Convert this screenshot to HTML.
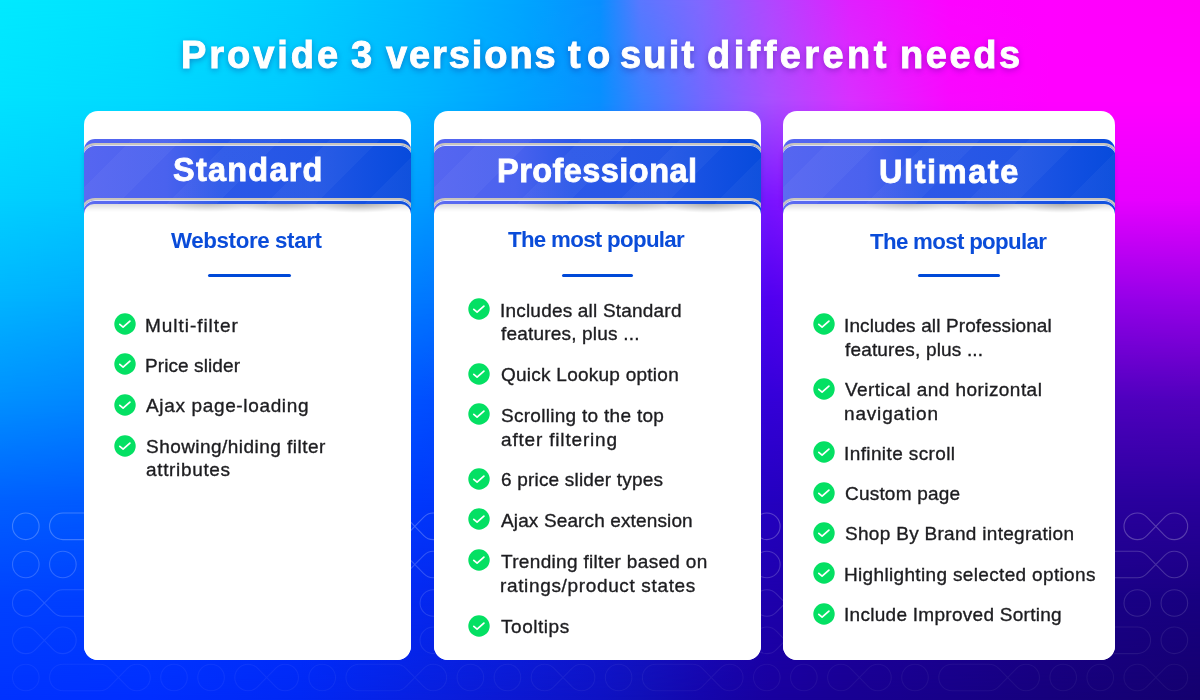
<!DOCTYPE html><html><head><meta charset="utf-8"><style>
html,body{margin:0;padding:0;}
body{width:1200px;height:700px;overflow:hidden;position:relative;font-family:"Liberation Sans",sans-serif;}
.bg{position:absolute;left:0;top:0;width:1200px;height:700px;overflow:hidden;}
.pat{position:absolute;left:0;top:0;}
.bgl{position:absolute;left:0;top:0;width:1200px;height:700px;}
.t{position:absolute;white-space:nowrap;will-change:transform;}
.card{position:absolute;top:111px;height:549px;background:#fff;border-radius:14px;overflow:hidden;}
.band{position:absolute;left:0;right:0;top:28px;height:76px;border-radius:11px 11px 0 0;
 background:linear-gradient(90deg,#5666f1 0%,#4a62ee 25%,#2c58e8 42%,#2356e5 70%,#0f4ee0 90%,#074bdc 100%);}
.stripes{position:absolute;left:0;right:0;top:0;bottom:0;
 background:repeating-linear-gradient(135deg,rgba(255,255,255,0) 0px,rgba(255,255,255,0) 34px,rgba(255,255,255,0.035) 34px,rgba(255,255,255,0.035) 70px);}
.ln{position:absolute;left:-3px;right:-3px;height:12px;border:2px solid #c9c5bd;border-bottom:none;border-radius:14px 14px 0 0;box-shadow:inset 0 1px 0 rgba(255,255,255,0.8);}
.body{position:absolute;left:0;right:0;top:93px;bottom:0;background:#fff;border-radius:10px 10px 0 0;}
.shadow{position:absolute;left:0;right:0;top:0;height:10px;border-radius:10px 10px 0 0;background:radial-gradient(14% 8px at 38% 0,rgba(0,0,0,0.14),rgba(0,0,0,0)),radial-gradient(14% 8px at 61% 0,rgba(0,0,0,0.17),rgba(0,0,0,0)),radial-gradient(14% 9px at 84% 0,rgba(0,0,0,0.22),rgba(0,0,0,0)),linear-gradient(180deg,rgba(0,0,0,0.14),rgba(0,0,0,0.04) 5px,rgba(0,0,0,0) 8px);}
.ul{position:absolute;height:3px;border-radius:2px;background:#0049d8;top:274.2px;}
.ic{position:absolute;width:22px;height:22px;}
</style></head><body>
<div class="bg" style="background:#0040ff">
<div class="bgl" style="background:linear-gradient(90deg,#00eaff 0.000%,#00e0ff 12.500%,#00cfff 25.000%,#00bbff 35.000%,#00a6ff 43.333%,#0890ff 50.000%,#5a78ff 53.333%,#8068ff 58.333%,#b048ff 64.167%,#e020ff 70.833%,#fc04ff 79.167%,#ff00ff 87.500%,#ff00f8 100.000%)"></div>
<div class="bgl" style="background:linear-gradient(90deg,#00e2ff 0.000%,#00d8ff 12.500%,#00c8ff 25.000%,#00b6ff 35.000%,#00a2ff 43.333%,#0890ff 50.000%,#3a80ff 53.333%,#7068ff 58.333%,#a850ff 64.167%,#d830ff 70.833%,#f808ff 79.167%,#ff00ff 87.500%,#ff00ff 100.000%);-webkit-mask-image:linear-gradient(180deg,transparent 0.000%,#000 14.286%);mask-image:linear-gradient(180deg,transparent 0.000%,#000 14.286%)"></div>
<div class="bgl" style="background:linear-gradient(90deg,#00d0ff 0.000%,#00c4ff 12.500%,#00b0ff 25.000%,#009cff 35.000%,#0088ff 43.333%,#1070ff 50.000%,#2060ff 53.333%,#5040ff 58.333%,#7a14ff 64.167%,#a010ff 70.833%,#d000ff 79.167%,#e800ff 87.500%,#e600ff 100.000%);-webkit-mask-image:linear-gradient(180deg,transparent 14.286%,#000 28.571%);mask-image:linear-gradient(180deg,transparent 14.286%,#000 28.571%)"></div>
<div class="bgl" style="background:linear-gradient(90deg,#00b4ff 0.000%,#00a4ff 12.500%,#0090ff 25.000%,#0078ff 35.000%,#0868ff 43.333%,#1450ff 50.000%,#2040f8 53.333%,#3828f4 58.333%,#5000f0 64.167%,#6800ea 70.833%,#8000e8 79.167%,#9000e8 87.500%,#9800e8 100.000%);-webkit-mask-image:linear-gradient(180deg,transparent 28.571%,#000 42.857%);mask-image:linear-gradient(180deg,transparent 28.571%,#000 42.857%)"></div>
<div class="bgl" style="background:linear-gradient(90deg,#0090ff 0.000%,#0080ff 12.500%,#0068ff 25.000%,#0050ff 35.000%,#0840f8 43.333%,#1430f0 50.000%,#1c28e8 53.333%,#2c1cdc 58.333%,#3400d8 64.167%,#3e00d0 70.833%,#4800c8 79.167%,#4c00c0 87.500%,#5000bc 100.000%);-webkit-mask-image:linear-gradient(180deg,transparent 42.857%,#000 57.143%);mask-image:linear-gradient(180deg,transparent 42.857%,#000 57.143%)"></div>
<div class="bgl" style="background:linear-gradient(90deg,#0060ff 0.000%,#0058ff 12.500%,#0048ff 25.000%,#0038fc 35.000%,#0830f0 43.333%,#1028e0 50.000%,#1620d8 53.333%,#1e14cc 58.333%,#2400c0 64.167%,#2800b2 70.833%,#2a00a8 79.167%,#2a00a0 87.500%,#2a009c 100.000%);-webkit-mask-image:linear-gradient(180deg,transparent 57.143%,#000 71.429%);mask-image:linear-gradient(180deg,transparent 57.143%,#000 71.429%)"></div>
<div class="bgl" style="background:linear-gradient(90deg,#0042ff 0.000%,#003cff 12.500%,#0030ff 25.000%,#0428f0 35.000%,#0a20e0 43.333%,#1018d0 50.000%,#1414c8 53.333%,#1a0cbc 58.333%,#1e00ac 64.167%,#1e00a0 70.833%,#1c0094 79.167%,#1a008a 87.500%,#180080 100.000%);-webkit-mask-image:linear-gradient(180deg,transparent 71.429%,#000 85.714%);mask-image:linear-gradient(180deg,transparent 71.429%,#000 85.714%)"></div>
<div class="bgl" style="background:linear-gradient(90deg,#0032ff 0.000%,#002eff 12.500%,#0028f4 25.000%,#0820e0 35.000%,#0c18d0 43.333%,#0e12c4 50.000%,#1010b8 53.333%,#1406ac 58.333%,#18009e 64.167%,#180092 70.833%,#170088 79.167%,#16007c 87.500%,#14006e 100.000%);-webkit-mask-image:linear-gradient(180deg,transparent 85.714%,#000 100.000%);mask-image:linear-gradient(180deg,transparent 85.714%,#000 100.000%)"></div>
<svg class="pat" width="1200" height="700" viewBox="0 0 1200 700" fill="none" stroke="#fff" stroke-width="1.1"><g stroke-opacity="0.24"><circle cx="25.80" cy="526.30" r="13.3"/><path d="M62.85 513.00L99.90 513.00A13.3 13.3 0 0 1 109.46 517.06L127.39 535.54A13.3 13.3 0 1 0 127.39 517.06L109.46 535.54A13.3 13.3 0 0 1 99.90 539.60L62.85 539.60A13.3 13.3 0 0 1 62.85 513.00Z"/><circle cx="174.00" cy="526.30" r="13.3"/><circle cx="211.05" cy="526.30" r="13.3"/><path d="M257.66 517.06L275.59 535.54A13.3 13.3 0 1 0 275.59 517.06L257.66 535.54A13.3 13.3 0 1 1 257.66 517.06Z"/><circle cx="322.20" cy="526.30" r="13.3"/><path d="M359.25 513.00L396.30 513.00A13.3 13.3 0 0 1 405.86 517.06L423.79 535.54A13.3 13.3 0 1 0 423.79 517.06L405.86 535.54A13.3 13.3 0 0 1 396.30 539.60L359.25 539.60A13.3 13.3 0 0 1 359.25 513.00Z"/><circle cx="470.40" cy="526.30" r="13.3"/><circle cx="507.45" cy="526.30" r="13.3"/><path d="M554.06 517.06L571.99 535.54A13.3 13.3 0 1 0 571.99 517.06L554.06 535.54A13.3 13.3 0 1 1 554.06 517.06Z"/><circle cx="618.60" cy="526.30" r="13.3"/><path d="M655.65 513.00L692.70 513.00A13.3 13.3 0 0 1 702.26 517.06L720.19 535.54A13.3 13.3 0 1 0 720.19 517.06L702.26 535.54A13.3 13.3 0 0 1 692.70 539.60L655.65 539.60A13.3 13.3 0 0 1 655.65 513.00Z"/><circle cx="766.80" cy="526.30" r="13.3"/><circle cx="803.85" cy="526.30" r="13.3"/><path d="M850.46 517.06L868.39 535.54A13.3 13.3 0 1 0 868.39 517.06L850.46 535.54A13.3 13.3 0 1 1 850.46 517.06Z"/><circle cx="915.00" cy="526.30" r="13.3"/><path d="M952.05 513.00L989.10 513.00A13.3 13.3 0 0 1 998.66 517.06L1016.59 535.54A13.3 13.3 0 1 0 1016.59 517.06L998.66 535.54A13.3 13.3 0 0 1 989.10 539.60L952.05 539.60A13.3 13.3 0 0 1 952.05 513.00Z"/><circle cx="1063.20" cy="526.30" r="13.3"/><circle cx="1100.25" cy="526.30" r="13.3"/><path d="M1146.86 517.06L1164.79 535.54A13.3 13.3 0 1 0 1164.79 517.06L1146.86 535.54A13.3 13.3 0 1 1 1146.86 517.06Z"/></g><g stroke-opacity="0.19"><circle cx="25.80" cy="564.50" r="13.3"/><circle cx="62.85" cy="564.50" r="13.3"/><path d="M109.46 555.26L127.39 573.74A13.3 13.3 0 1 0 127.39 555.26L109.46 573.74A13.3 13.3 0 1 1 109.46 555.26Z"/><circle cx="174.00" cy="564.50" r="13.3"/><path d="M211.05 551.20L248.10 551.20A13.3 13.3 0 0 1 257.66 555.26L275.59 573.74A13.3 13.3 0 1 0 275.59 555.26L257.66 573.74A13.3 13.3 0 0 1 248.10 577.80L211.05 577.80A13.3 13.3 0 0 1 211.05 551.20Z"/><circle cx="322.20" cy="564.50" r="13.3"/><circle cx="359.25" cy="564.50" r="13.3"/><path d="M405.86 555.26L423.79 573.74A13.3 13.3 0 1 0 423.79 555.26L405.86 573.74A13.3 13.3 0 1 1 405.86 555.26Z"/><circle cx="470.40" cy="564.50" r="13.3"/><path d="M507.45 551.20L544.50 551.20A13.3 13.3 0 0 1 554.06 555.26L571.99 573.74A13.3 13.3 0 1 0 571.99 555.26L554.06 573.74A13.3 13.3 0 0 1 544.50 577.80L507.45 577.80A13.3 13.3 0 0 1 507.45 551.20Z"/><circle cx="618.60" cy="564.50" r="13.3"/><circle cx="655.65" cy="564.50" r="13.3"/><path d="M702.26 555.26L720.19 573.74A13.3 13.3 0 1 0 720.19 555.26L702.26 573.74A13.3 13.3 0 1 1 702.26 555.26Z"/><circle cx="766.80" cy="564.50" r="13.3"/><path d="M803.85 551.20L840.90 551.20A13.3 13.3 0 0 1 850.46 555.26L868.39 573.74A13.3 13.3 0 1 0 868.39 555.26L850.46 573.74A13.3 13.3 0 0 1 840.90 577.80L803.85 577.80A13.3 13.3 0 0 1 803.85 551.20Z"/><circle cx="915.00" cy="564.50" r="13.3"/><circle cx="952.05" cy="564.50" r="13.3"/><path d="M998.66 555.26L1016.59 573.74A13.3 13.3 0 1 0 1016.59 555.26L998.66 573.74A13.3 13.3 0 1 1 998.66 555.26Z"/><circle cx="1063.20" cy="564.50" r="13.3"/><path d="M1100.25 551.20L1137.30 551.20A13.3 13.3 0 0 1 1146.86 555.26L1164.79 573.74A13.3 13.3 0 1 0 1164.79 555.26L1146.86 573.74A13.3 13.3 0 0 1 1137.30 577.80L1100.25 577.80A13.3 13.3 0 0 1 1100.25 551.20Z"/></g><g stroke-opacity="0.13"><path d="M99.90 589.70L62.85 589.70A13.3 13.3 0 0 0 53.29 593.76L35.36 612.24A13.3 13.3 0 1 1 35.36 593.76L53.29 612.24A13.3 13.3 0 0 0 62.85 616.30L99.90 616.30A13.3 13.3 0 0 0 99.90 589.70Z"/><circle cx="136.95" cy="603.00" r="13.3"/><path d="M183.56 593.76L201.49 612.24A13.3 13.3 0 1 0 201.49 593.76L183.56 612.24A13.3 13.3 0 1 1 183.56 593.76Z"/><circle cx="248.10" cy="603.00" r="13.3"/><circle cx="285.15" cy="603.00" r="13.3"/><path d="M396.30 589.70L359.25 589.70A13.3 13.3 0 0 0 349.69 593.76L331.76 612.24A13.3 13.3 0 1 1 331.76 593.76L349.69 612.24A13.3 13.3 0 0 0 359.25 616.30L396.30 616.30A13.3 13.3 0 0 0 396.30 589.70Z"/><circle cx="433.35" cy="603.00" r="13.3"/><path d="M479.96 593.76L497.89 612.24A13.3 13.3 0 1 0 497.89 593.76L479.96 612.24A13.3 13.3 0 1 1 479.96 593.76Z"/><circle cx="544.50" cy="603.00" r="13.3"/><circle cx="581.55" cy="603.00" r="13.3"/><path d="M692.70 589.70L655.65 589.70A13.3 13.3 0 0 0 646.09 593.76L628.16 612.24A13.3 13.3 0 1 1 628.16 593.76L646.09 612.24A13.3 13.3 0 0 0 655.65 616.30L692.70 616.30A13.3 13.3 0 0 0 692.70 589.70Z"/><circle cx="729.75" cy="603.00" r="13.3"/><path d="M776.36 593.76L794.29 612.24A13.3 13.3 0 1 0 794.29 593.76L776.36 612.24A13.3 13.3 0 1 1 776.36 593.76Z"/><circle cx="840.90" cy="603.00" r="13.3"/><circle cx="877.95" cy="603.00" r="13.3"/><path d="M989.10 589.70L952.05 589.70A13.3 13.3 0 0 0 942.49 593.76L924.56 612.24A13.3 13.3 0 1 1 924.56 593.76L942.49 612.24A13.3 13.3 0 0 0 952.05 616.30L989.10 616.30A13.3 13.3 0 0 0 989.10 589.70Z"/><circle cx="1026.15" cy="603.00" r="13.3"/><path d="M1072.76 593.76L1090.69 612.24A13.3 13.3 0 1 0 1090.69 593.76L1072.76 612.24A13.3 13.3 0 1 1 1072.76 593.76Z"/><circle cx="1137.30" cy="603.00" r="13.3"/><circle cx="1174.35" cy="603.00" r="13.3"/></g><g stroke-opacity="0.075"><path d="M35.36 631.06L53.29 649.54A13.3 13.3 0 1 0 53.29 631.06L35.36 649.54A13.3 13.3 0 1 1 35.36 631.06Z"/><circle cx="99.90" cy="640.30" r="13.3"/><circle cx="136.95" cy="640.30" r="13.3"/><path d="M248.10 627.00L211.05 627.00A13.3 13.3 0 0 0 201.49 631.06L183.56 649.54A13.3 13.3 0 1 1 183.56 631.06L201.49 649.54A13.3 13.3 0 0 0 211.05 653.60L248.10 653.60A13.3 13.3 0 0 0 248.10 627.00Z"/><circle cx="285.15" cy="640.30" r="13.3"/><path d="M331.76 631.06L349.69 649.54A13.3 13.3 0 1 0 349.69 631.06L331.76 649.54A13.3 13.3 0 1 1 331.76 631.06Z"/><circle cx="396.30" cy="640.30" r="13.3"/><circle cx="433.35" cy="640.30" r="13.3"/><path d="M544.50 627.00L507.45 627.00A13.3 13.3 0 0 0 497.89 631.06L479.96 649.54A13.3 13.3 0 1 1 479.96 631.06L497.89 649.54A13.3 13.3 0 0 0 507.45 653.60L544.50 653.60A13.3 13.3 0 0 0 544.50 627.00Z"/><circle cx="581.55" cy="640.30" r="13.3"/><path d="M628.16 631.06L646.09 649.54A13.3 13.3 0 1 0 646.09 631.06L628.16 649.54A13.3 13.3 0 1 1 628.16 631.06Z"/><circle cx="692.70" cy="640.30" r="13.3"/><circle cx="729.75" cy="640.30" r="13.3"/><path d="M840.90 627.00L803.85 627.00A13.3 13.3 0 0 0 794.29 631.06L776.36 649.54A13.3 13.3 0 1 1 776.36 631.06L794.29 649.54A13.3 13.3 0 0 0 803.85 653.60L840.90 653.60A13.3 13.3 0 0 0 840.90 627.00Z"/><circle cx="877.95" cy="640.30" r="13.3"/><path d="M924.56 631.06L942.49 649.54A13.3 13.3 0 1 0 942.49 631.06L924.56 649.54A13.3 13.3 0 1 1 924.56 631.06Z"/><circle cx="989.10" cy="640.30" r="13.3"/><circle cx="1026.15" cy="640.30" r="13.3"/><path d="M1137.30 627.00L1100.25 627.00A13.3 13.3 0 0 0 1090.69 631.06L1072.76 649.54A13.3 13.3 0 1 1 1072.76 631.06L1090.69 649.54A13.3 13.3 0 0 0 1100.25 653.60L1137.30 653.60A13.3 13.3 0 0 0 1137.30 627.00Z"/><circle cx="1174.35" cy="640.30" r="13.3"/></g><g stroke-opacity="0.05"><circle cx="25.80" cy="677.50" r="13.3"/><path d="M62.85 664.20L99.90 664.20A13.3 13.3 0 0 1 109.46 668.26L127.39 686.74A13.3 13.3 0 1 0 127.39 668.26L109.46 686.74A13.3 13.3 0 0 1 99.90 690.80L62.85 690.80A13.3 13.3 0 0 1 62.85 664.20Z"/><circle cx="174.00" cy="677.50" r="13.3"/><circle cx="211.05" cy="677.50" r="13.3"/><path d="M257.66 668.26L275.59 686.74A13.3 13.3 0 1 0 275.59 668.26L257.66 686.74A13.3 13.3 0 1 1 257.66 668.26Z"/><circle cx="322.20" cy="677.50" r="13.3"/><path d="M359.25 664.20L396.30 664.20A13.3 13.3 0 0 1 405.86 668.26L423.79 686.74A13.3 13.3 0 1 0 423.79 668.26L405.86 686.74A13.3 13.3 0 0 1 396.30 690.80L359.25 690.80A13.3 13.3 0 0 1 359.25 664.20Z"/><circle cx="470.40" cy="677.50" r="13.3"/><circle cx="507.45" cy="677.50" r="13.3"/><path d="M554.06 668.26L571.99 686.74A13.3 13.3 0 1 0 571.99 668.26L554.06 686.74A13.3 13.3 0 1 1 554.06 668.26Z"/><circle cx="618.60" cy="677.50" r="13.3"/><path d="M655.65 664.20L692.70 664.20A13.3 13.3 0 0 1 702.26 668.26L720.19 686.74A13.3 13.3 0 1 0 720.19 668.26L702.26 686.74A13.3 13.3 0 0 1 692.70 690.80L655.65 690.80A13.3 13.3 0 0 1 655.65 664.20Z"/><circle cx="766.80" cy="677.50" r="13.3"/><circle cx="803.85" cy="677.50" r="13.3"/><path d="M850.46 668.26L868.39 686.74A13.3 13.3 0 1 0 868.39 668.26L850.46 686.74A13.3 13.3 0 1 1 850.46 668.26Z"/><circle cx="915.00" cy="677.50" r="13.3"/><path d="M952.05 664.20L989.10 664.20A13.3 13.3 0 0 1 998.66 668.26L1016.59 686.74A13.3 13.3 0 1 0 1016.59 668.26L998.66 686.74A13.3 13.3 0 0 1 989.10 690.80L952.05 690.80A13.3 13.3 0 0 1 952.05 664.20Z"/><circle cx="1063.20" cy="677.50" r="13.3"/><circle cx="1100.25" cy="677.50" r="13.3"/><path d="M1146.86 668.26L1164.79 686.74A13.3 13.3 0 1 0 1164.79 668.26L1146.86 686.74A13.3 13.3 0 1 1 1146.86 668.26Z"/></g></svg>
</div>
<div style="position:absolute;left:84.00px;top:150px;width:327.00px;height:56px;box-shadow:0 2px 5px rgba(0,0,40,0.16)"></div>
<div class="card" style="left:84.00px;width:327.00px">
<div class="band"><div class="stripes"></div><div class="ln" style="top:4px"></div><div class="ln" style="top:59px"></div></div>
<div class="body"><div class="shadow"></div></div>
</div>
<div style="position:absolute;left:434.00px;top:150px;width:327.00px;height:56px;box-shadow:0 2px 5px rgba(0,0,40,0.16)"></div>
<div class="card" style="left:434.00px;width:327.00px">
<div class="band"><div class="stripes"></div><div class="ln" style="top:4px"></div><div class="ln" style="top:59px"></div></div>
<div class="body"><div class="shadow"></div></div>
</div>
<div style="position:absolute;left:783.00px;top:150px;width:332.00px;height:56px;box-shadow:0 2px 5px rgba(0,0,40,0.16)"></div>
<div class="card" style="left:783.00px;width:332.00px">
<div class="band"><div class="stripes"></div><div class="ln" style="top:4px"></div><div class="ln" style="top:59px"></div></div>
<div class="body"><div class="shadow"></div></div>
</div>
<div class="ul" style="left:207.80px;width:83.00px"></div>
<div class="ul" style="left:561.80px;width:71.40px"></div>
<div class="ul" style="left:917.50px;width:82.00px"></div>
<div class="ic" style="left:114.30px;top:313.30px"><svg width="22" height="22" viewBox="0 0 22 22"><circle cx="11" cy="11" r="10.7" fill="#04e063"/><path d="M5.8 11.4L9.1 14.2L15.9 8.2" fill="none" stroke="#fff" stroke-width="1.75" stroke-linecap="round" stroke-linejoin="round"/></svg></div>
<div class="ic" style="left:114.30px;top:353.40px"><svg width="22" height="22" viewBox="0 0 22 22"><circle cx="11" cy="11" r="10.7" fill="#04e063"/><path d="M5.8 11.4L9.1 14.2L15.9 8.2" fill="none" stroke="#fff" stroke-width="1.75" stroke-linecap="round" stroke-linejoin="round"/></svg></div>
<div class="ic" style="left:114.30px;top:394.00px"><svg width="22" height="22" viewBox="0 0 22 22"><circle cx="11" cy="11" r="10.7" fill="#04e063"/><path d="M5.8 11.4L9.1 14.2L15.9 8.2" fill="none" stroke="#fff" stroke-width="1.75" stroke-linecap="round" stroke-linejoin="round"/></svg></div>
<div class="ic" style="left:114.30px;top:434.50px"><svg width="22" height="22" viewBox="0 0 22 22"><circle cx="11" cy="11" r="10.7" fill="#04e063"/><path d="M5.8 11.4L9.1 14.2L15.9 8.2" fill="none" stroke="#fff" stroke-width="1.75" stroke-linecap="round" stroke-linejoin="round"/></svg></div>
<div class="ic" style="left:468.30px;top:298.00px"><svg width="22" height="22" viewBox="0 0 22 22"><circle cx="11" cy="11" r="10.7" fill="#04e063"/><path d="M5.8 11.4L9.1 14.2L15.9 8.2" fill="none" stroke="#fff" stroke-width="1.75" stroke-linecap="round" stroke-linejoin="round"/></svg></div>
<div class="ic" style="left:468.30px;top:363.00px"><svg width="22" height="22" viewBox="0 0 22 22"><circle cx="11" cy="11" r="10.7" fill="#04e063"/><path d="M5.8 11.4L9.1 14.2L15.9 8.2" fill="none" stroke="#fff" stroke-width="1.75" stroke-linecap="round" stroke-linejoin="round"/></svg></div>
<div class="ic" style="left:468.30px;top:403.00px"><svg width="22" height="22" viewBox="0 0 22 22"><circle cx="11" cy="11" r="10.7" fill="#04e063"/><path d="M5.8 11.4L9.1 14.2L15.9 8.2" fill="none" stroke="#fff" stroke-width="1.75" stroke-linecap="round" stroke-linejoin="round"/></svg></div>
<div class="ic" style="left:468.30px;top:467.70px"><svg width="22" height="22" viewBox="0 0 22 22"><circle cx="11" cy="11" r="10.7" fill="#04e063"/><path d="M5.8 11.4L9.1 14.2L15.9 8.2" fill="none" stroke="#fff" stroke-width="1.75" stroke-linecap="round" stroke-linejoin="round"/></svg></div>
<div class="ic" style="left:468.30px;top:508.10px"><svg width="22" height="22" viewBox="0 0 22 22"><circle cx="11" cy="11" r="10.7" fill="#04e063"/><path d="M5.8 11.4L9.1 14.2L15.9 8.2" fill="none" stroke="#fff" stroke-width="1.75" stroke-linecap="round" stroke-linejoin="round"/></svg></div>
<div class="ic" style="left:468.30px;top:549.40px"><svg width="22" height="22" viewBox="0 0 22 22"><circle cx="11" cy="11" r="10.7" fill="#04e063"/><path d="M5.8 11.4L9.1 14.2L15.9 8.2" fill="none" stroke="#fff" stroke-width="1.75" stroke-linecap="round" stroke-linejoin="round"/></svg></div>
<div class="ic" style="left:468.30px;top:614.60px"><svg width="22" height="22" viewBox="0 0 22 22"><circle cx="11" cy="11" r="10.7" fill="#04e063"/><path d="M5.8 11.4L9.1 14.2L15.9 8.2" fill="none" stroke="#fff" stroke-width="1.75" stroke-linecap="round" stroke-linejoin="round"/></svg></div>
<div class="ic" style="left:812.70px;top:313.00px"><svg width="22" height="22" viewBox="0 0 22 22"><circle cx="11" cy="11" r="10.7" fill="#04e063"/><path d="M5.8 11.4L9.1 14.2L15.9 8.2" fill="none" stroke="#fff" stroke-width="1.75" stroke-linecap="round" stroke-linejoin="round"/></svg></div>
<div class="ic" style="left:812.70px;top:377.70px"><svg width="22" height="22" viewBox="0 0 22 22"><circle cx="11" cy="11" r="10.7" fill="#04e063"/><path d="M5.8 11.4L9.1 14.2L15.9 8.2" fill="none" stroke="#fff" stroke-width="1.75" stroke-linecap="round" stroke-linejoin="round"/></svg></div>
<div class="ic" style="left:812.70px;top:441.20px"><svg width="22" height="22" viewBox="0 0 22 22"><circle cx="11" cy="11" r="10.7" fill="#04e063"/><path d="M5.8 11.4L9.1 14.2L15.9 8.2" fill="none" stroke="#fff" stroke-width="1.75" stroke-linecap="round" stroke-linejoin="round"/></svg></div>
<div class="ic" style="left:812.70px;top:481.70px"><svg width="22" height="22" viewBox="0 0 22 22"><circle cx="11" cy="11" r="10.7" fill="#04e063"/><path d="M5.8 11.4L9.1 14.2L15.9 8.2" fill="none" stroke="#fff" stroke-width="1.75" stroke-linecap="round" stroke-linejoin="round"/></svg></div>
<div class="ic" style="left:812.70px;top:521.80px"><svg width="22" height="22" viewBox="0 0 22 22"><circle cx="11" cy="11" r="10.7" fill="#04e063"/><path d="M5.8 11.4L9.1 14.2L15.9 8.2" fill="none" stroke="#fff" stroke-width="1.75" stroke-linecap="round" stroke-linejoin="round"/></svg></div>
<div class="ic" style="left:812.70px;top:562.30px"><svg width="22" height="22" viewBox="0 0 22 22"><circle cx="11" cy="11" r="10.7" fill="#04e063"/><path d="M5.8 11.4L9.1 14.2L15.9 8.2" fill="none" stroke="#fff" stroke-width="1.75" stroke-linecap="round" stroke-linejoin="round"/></svg></div>
<div class="ic" style="left:812.70px;top:603.00px"><svg width="22" height="22" viewBox="0 0 22 22"><circle cx="11" cy="11" r="10.7" fill="#04e063"/><path d="M5.8 11.4L9.1 14.2L15.9 8.2" fill="none" stroke="#fff" stroke-width="1.75" stroke-linecap="round" stroke-linejoin="round"/></svg></div>
<div class="t" style="left:181.20px;top:35.53px;font-size:38px;line-height:38px;font-weight:bold;color:#fff;letter-spacing:2.96px;text-shadow:0 2px 6px rgba(30,0,110,0.4);-webkit-text-stroke:0.9px #fff;">Provide</div>
<div class="t" style="left:351.20px;top:35.53px;font-size:38px;line-height:38px;font-weight:bold;color:#fff;letter-spacing:0.00px;text-shadow:0 2px 6px rgba(30,0,110,0.4);-webkit-text-stroke:0.9px #fff;">3</div>
<div class="t" style="left:385.70px;top:35.53px;font-size:38px;line-height:38px;font-weight:bold;color:#fff;letter-spacing:1.92px;text-shadow:0 2px 6px rgba(30,0,110,0.4);-webkit-text-stroke:0.9px #fff;">versions</div>
<div class="t" style="left:568.40px;top:35.53px;font-size:38px;line-height:38px;font-weight:bold;color:#fff;letter-spacing:6.45px;text-shadow:0 2px 6px rgba(30,0,110,0.4);-webkit-text-stroke:0.9px #fff;">to</div>
<div class="t" style="left:619.90px;top:35.53px;font-size:38px;line-height:38px;font-weight:bold;color:#fff;letter-spacing:2.23px;text-shadow:0 2px 6px rgba(30,0,110,0.4);-webkit-text-stroke:0.9px #fff;">suit</div>
<div class="t" style="left:707.30px;top:35.53px;font-size:38px;line-height:38px;font-weight:bold;color:#fff;letter-spacing:3.42px;text-shadow:0 2px 6px rgba(30,0,110,0.4);-webkit-text-stroke:0.9px #fff;">different</div>
<div class="t" style="left:900.10px;top:35.53px;font-size:38px;line-height:38px;font-weight:bold;color:#fff;letter-spacing:2.55px;text-shadow:0 2px 6px rgba(30,0,110,0.4);-webkit-text-stroke:0.9px #fff;">needs</div>
<div class="t" style="left:172.80px;top:154.09px;font-size:32.5px;line-height:32.5px;font-weight:bold;color:#fff;letter-spacing:1.23px;-webkit-text-stroke:0.8px #fff;">Standard</div>
<div class="t" style="left:497.00px;top:155.49px;font-size:32.5px;line-height:32.5px;font-weight:bold;color:#fff;letter-spacing:0.45px;-webkit-text-stroke:0.8px #fff;">Professional</div>
<div class="t" style="left:878.50px;top:156.29px;font-size:32.5px;line-height:32.5px;font-weight:bold;color:#fff;letter-spacing:1.58px;-webkit-text-stroke:0.8px #fff;">Ultimate</div>
<div class="t" style="left:171.20px;top:229.62px;font-size:22.3px;line-height:22.3px;font-weight:bold;color:#0a4cd9;letter-spacing:-0.37px;">Webstore start</div>
<div class="t" style="left:508.30px;top:228.72px;font-size:22.3px;line-height:22.3px;font-weight:bold;color:#0a4cd9;letter-spacing:-0.69px;">The most popular</div>
<div class="t" style="left:870.30px;top:231.22px;font-size:22.3px;line-height:22.3px;font-weight:bold;color:#0a4cd9;letter-spacing:-0.68px;">The most popular</div>
<div class="t" style="left:145.40px;top:315.82px;font-size:19px;line-height:19px;font-weight:normal;color:#1d1d20;letter-spacing:0.96px;-webkit-text-stroke:0.35px #1d1d20;">Multi-filter</div>
<div class="t" style="left:145.40px;top:356.02px;font-size:19px;line-height:19px;font-weight:normal;color:#1d1d20;letter-spacing:0.09px;-webkit-text-stroke:0.35px #1d1d20;">Price slider</div>
<div class="t" style="left:146.40px;top:396.42px;font-size:19px;line-height:19px;font-weight:normal;color:#1d1d20;letter-spacing:0.65px;-webkit-text-stroke:0.35px #1d1d20;">Ajax page-loading</div>
<div class="t" style="left:146.40px;top:436.62px;font-size:19px;line-height:19px;font-weight:normal;color:#1d1d20;letter-spacing:0.46px;-webkit-text-stroke:0.35px #1d1d20;">Showing/hiding filter</div>
<div class="t" style="left:146.40px;top:459.92px;font-size:19px;line-height:19px;font-weight:normal;color:#1d1d20;letter-spacing:0.66px;-webkit-text-stroke:0.35px #1d1d20;">attributes</div>
<div class="t" style="left:499.70px;top:301.12px;font-size:19px;line-height:19px;font-weight:normal;color:#1d1d20;letter-spacing:0.20px;-webkit-text-stroke:0.35px #1d1d20;">Includes all Standard</div>
<div class="t" style="left:500.70px;top:324.22px;font-size:19px;line-height:19px;font-weight:normal;color:#1d1d20;letter-spacing:0.19px;-webkit-text-stroke:0.35px #1d1d20;">features, plus ...</div>
<div class="t" style="left:500.70px;top:365.22px;font-size:19px;line-height:19px;font-weight:normal;color:#1d1d20;letter-spacing:0.25px;-webkit-text-stroke:0.35px #1d1d20;">Quick Lookup option</div>
<div class="t" style="left:500.70px;top:405.72px;font-size:19px;line-height:19px;font-weight:normal;color:#1d1d20;letter-spacing:0.29px;-webkit-text-stroke:0.35px #1d1d20;">Scrolling to the top</div>
<div class="t" style="left:500.70px;top:429.92px;font-size:19px;line-height:19px;font-weight:normal;color:#1d1d20;letter-spacing:0.82px;-webkit-text-stroke:0.35px #1d1d20;">after filtering</div>
<div class="t" style="left:500.70px;top:470.42px;font-size:19px;line-height:19px;font-weight:normal;color:#1d1d20;letter-spacing:0.19px;-webkit-text-stroke:0.35px #1d1d20;">6 price slider types</div>
<div class="t" style="left:500.70px;top:511.02px;font-size:19px;line-height:19px;font-weight:normal;color:#1d1d20;letter-spacing:0.13px;-webkit-text-stroke:0.35px #1d1d20;">Ajax Search extension</div>
<div class="t" style="left:500.70px;top:552.22px;font-size:19px;line-height:19px;font-weight:normal;color:#1d1d20;letter-spacing:0.32px;-webkit-text-stroke:0.35px #1d1d20;">Trending filter based on</div>
<div class="t" style="left:499.70px;top:575.62px;font-size:19px;line-height:19px;font-weight:normal;color:#1d1d20;letter-spacing:0.65px;-webkit-text-stroke:0.35px #1d1d20;">ratings/product states</div>
<div class="t" style="left:500.70px;top:616.72px;font-size:19px;line-height:19px;font-weight:normal;color:#1d1d20;letter-spacing:0.53px;-webkit-text-stroke:0.35px #1d1d20;">Tooltips</div>
<div class="t" style="left:843.60px;top:315.72px;font-size:19px;line-height:19px;font-weight:normal;color:#1d1d20;letter-spacing:0.12px;-webkit-text-stroke:0.35px #1d1d20;">Includes all Professional</div>
<div class="t" style="left:844.60px;top:339.52px;font-size:19px;line-height:19px;font-weight:normal;color:#1d1d20;letter-spacing:0.17px;-webkit-text-stroke:0.35px #1d1d20;">features, plus ...</div>
<div class="t" style="left:844.60px;top:380.12px;font-size:19px;line-height:19px;font-weight:normal;color:#1d1d20;letter-spacing:0.45px;-webkit-text-stroke:0.35px #1d1d20;">Vertical and horizontal</div>
<div class="t" style="left:843.60px;top:403.72px;font-size:19px;line-height:19px;font-weight:normal;color:#1d1d20;letter-spacing:0.82px;-webkit-text-stroke:0.35px #1d1d20;">navigation</div>
<div class="t" style="left:843.60px;top:443.82px;font-size:19px;line-height:19px;font-weight:normal;color:#1d1d20;letter-spacing:0.39px;-webkit-text-stroke:0.35px #1d1d20;">Infinite scroll</div>
<div class="t" style="left:844.60px;top:483.82px;font-size:19px;line-height:19px;font-weight:normal;color:#1d1d20;letter-spacing:0.20px;-webkit-text-stroke:0.35px #1d1d20;">Custom page</div>
<div class="t" style="left:844.60px;top:524.12px;font-size:19px;line-height:19px;font-weight:normal;color:#1d1d20;letter-spacing:0.30px;-webkit-text-stroke:0.35px #1d1d20;">Shop By Brand integration</div>
<div class="t" style="left:843.60px;top:564.62px;font-size:19px;line-height:19px;font-weight:normal;color:#1d1d20;letter-spacing:0.34px;-webkit-text-stroke:0.35px #1d1d20;">Highlighting selected options</div>
<div class="t" style="left:843.60px;top:604.62px;font-size:19px;line-height:19px;font-weight:normal;color:#1d1d20;letter-spacing:0.28px;-webkit-text-stroke:0.35px #1d1d20;">Include Improved Sorting</div>
</body></html>
